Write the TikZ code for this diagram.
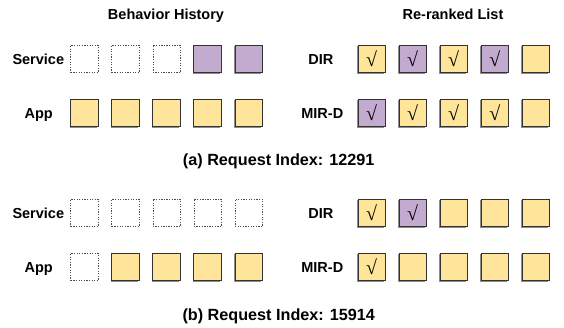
\documentclass[tikz,border=0pt]{standalone}
\usepackage{fontspec}
\setmainfont{Liberation Sans}
\newfontfamily\chkfont{Liberation Serif}
\usetikzlibrary{shadows}
\definecolor{yel}{HTML}{FFE599}
\definecolor{pur}{HTML}{C3ABD0}
\definecolor{edge}{HTML}{333333}
\tikzset{
  cell/.style={draw=edge, line width=0.8pt, minimum size=27.5pt, inner sep=0pt,
    general shadow={shadow xshift=-1.1pt, shadow yshift=-1.1pt, fill=black!45}},
  ycell/.style={cell, fill=yel},
  pcell/.style={cell, fill=pur},
  ecell/.style={draw=black!70, line width=0.7pt, dash pattern=on 1.3pt off 1.3pt,
    minimum size=27.5pt, inner sep=0pt},
  chk/.style={font=\chkfont\fontsize{20}{20}\selectfont},
  rowlab/.style={font=\fontsize{14.5}{15}\selectfont\bfseries, anchor=base, inner sep=0pt},
  captext/.style={font=\fontsize{16.2}{17}\selectfont\bfseries, anchor=base, inner sep=0pt}
}
\begin{document}
\begin{tikzpicture}[x=1pt,y=-1pt]
\useasboundingbox (0,0) rectangle (564,328);
% headings
\node[rowlab] (hbh) at (166,19.5) {Behavior History};
\node[rowlab] (hrl) at (453,19.5) {Re-ranked List};
% ---------- (a) ----------
\node[rowlab] (la-s) at (38.3,64.3) {Service};
\node[rowlab] (la-a) at (38.7,118.5) {App};
\node[rowlab] (la-d) at (320.8,64.5) {DIR};
\node[rowlab] (la-m) at (322.3,118.5) {MIR-D};
\node[ecell] (as1) at (84.5,59) {};
\node[ecell] (as2) at (125.5,59) {};
\node[ecell] (as3) at (166.6,59) {};
\node[pcell] (as4) at (207.6,59) {};
\node[pcell] (as5) at (248.7,59) {};
\foreach \i/\x in {1/84.5,2/125.5,3/166.6,4/207.6,5/248.7}
  \node[ycell] (aa\i) at (\x,113) {};
\node[ycell,chk] (ad1) at (371.7,59) {√};
\node[pcell,chk] (ad2) at (412.7,59) {√};
\node[ycell,chk] (ad3) at (453.7,59) {√};
\node[pcell,chk] (ad4) at (494.8,59) {√};
\node[ycell] (ad5) at (535.8,59) {};
\node[pcell,chk] (am1) at (371.7,113) {√};
\node[ycell,chk] (am2) at (412.7,113) {√};
\node[ycell,chk] (am3) at (453.7,113) {√};
\node[ycell,chk] (am4) at (494.8,113) {√};
\node[ycell] (am5) at (535.8,113) {};
\node[captext] (capa) at (278.7,165.5) {(a) Request Index: 12291};
% ---------- (b) ----------
\node[rowlab] (lb-s) at (38.3,218.3) {Service};
\node[rowlab] (lb-a) at (38.7,272.5) {App};
\node[rowlab] (lb-d) at (320.8,218.5) {DIR};
\node[rowlab] (lb-m) at (322.3,272.5) {MIR-D};
\foreach \i/\x in {1/84.5,2/125.5,3/166.6,4/207.6,5/248.7}
  \node[ecell] (bs\i) at (\x,213) {};
\node[ecell] (ba1) at (84.5,267) {};
\foreach \i/\x in {2/125.5,3/166.6,4/207.6,5/248.7}
  \node[ycell] (ba\i) at (\x,267) {};
\node[ycell,chk] (bd1) at (371.7,213) {√};
\node[pcell,chk] (bd2) at (412.7,213) {√};
\foreach \i/\x in {3/453.7,4/494.8,5/535.8}
  \node[ycell] (bd\i) at (\x,213) {};
\node[ycell,chk] (bm1) at (371.7,267) {√};
\foreach \i/\x in {2/412.7,3/453.7,4/494.8,5/535.8}
  \node[ycell] (bm\i) at (\x,267) {};
\node[captext] (capb) at (278.7,320.7) {(b) Request Index: 15914};
\end{tikzpicture}
\end{document}
